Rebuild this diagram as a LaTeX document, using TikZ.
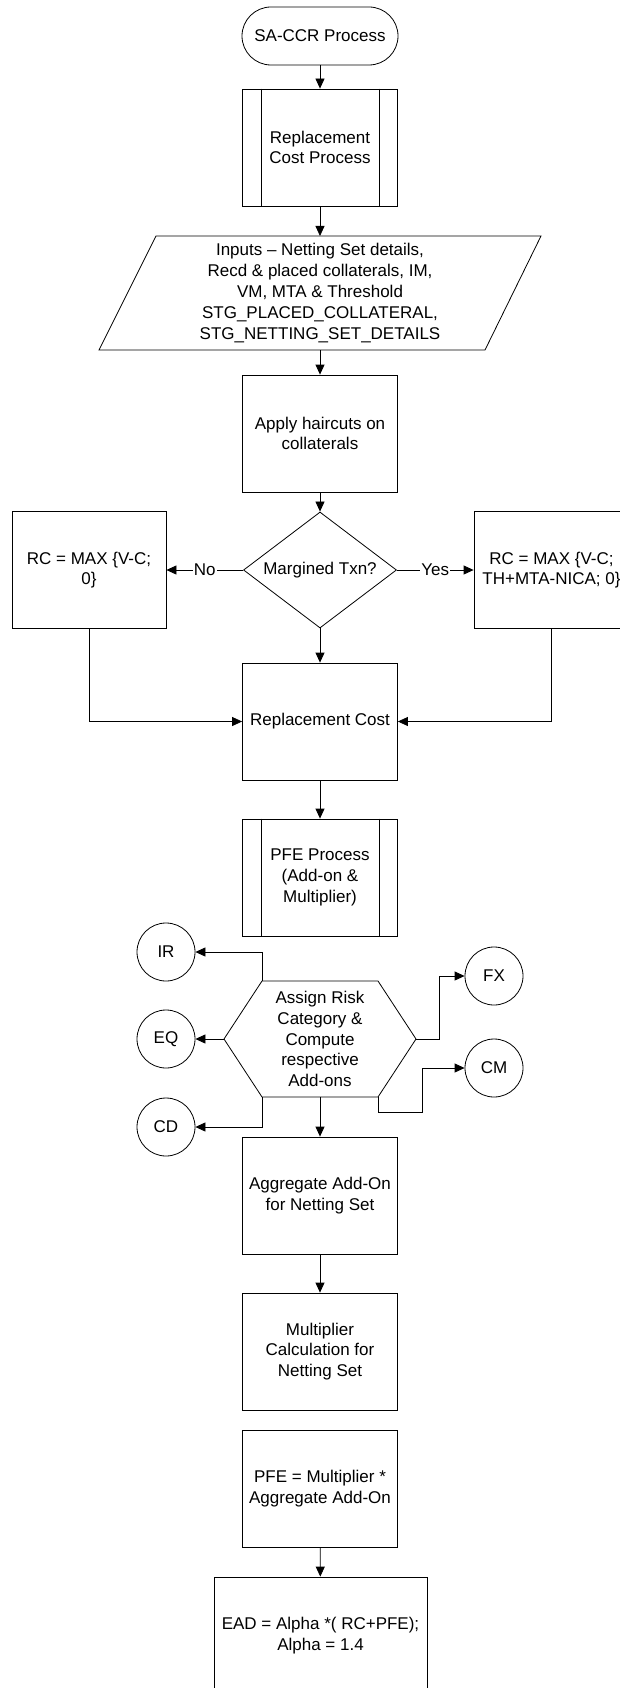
\documentclass[tikz,border=0pt]{standalone}
\usepackage{fontspec}
\setmainfont{Liberation Sans}
\usetikzlibrary{arrows.meta,shapes.geometric}
\begin{document}
\begin{tikzpicture}[x=1pt,y=-1pt,
  every node/.style={font=\fontsize{17}{20.8}\selectfont, align=center, inner sep=0pt},
  box/.style={draw, rectangle, minimum width=155pt, minimum height=117pt},
  termbox/.style={draw, rectangle, rounded corners=29pt, minimum width=156pt, minimum height=58pt},
  circ/.style={draw, circle, minimum size=58pt},
  dec/.style={draw, diamond, aspect=1.32, minimum width=153pt, minimum height=116pt},
  arr/.style={-{Triangle[length=10pt,width=9pt]}},
  lbl/.style={fill=white, inner xsep=1pt, inner ysep=2pt},
  line width=0.8pt]
\useasboundingbox (0,0) rectangle (620,1688);
\clip (0,0) rectangle (620,1688);
\fill[white] (0,0) rectangle (620,1688);

% main column
\node[termbox] (start) at (320,36) {SA-CCR Process};
\node[box] (rcp) at (320,147.5) {Replacement\\Cost Process};
\draw ([xshift=19pt]rcp.north west) -- ([xshift=19pt]rcp.south west);
\draw ([xshift=-19pt]rcp.north east) -- ([xshift=-19pt]rcp.south east);

\coordinate (ptl) at (156,236);
\coordinate (ptr) at (541,236);
\coordinate (pbr) at (485,350);
\coordinate (pbl) at (99,350);
\coordinate (inpT) at (320,236);
\coordinate (inpB) at (320,350);
\draw (ptl) -- (ptr) -- (pbr) -- (pbl) -- cycle;
\node (inp) at (320,293) {Inputs – Netting Set details,\\Recd \& placed collaterals, IM,\\VM, MTA \& Threshold\\STG\_PLACED\_COLLATERAL,\\STG\_NETTING\_SET\_DETAILS};

\node[box] (hair) at (320,433.5) {Apply haircuts on\\collaterals};
\node[dec] (dec) at (320,570) {Margined Txn?};
\node[box, minimum width=154pt] (rcl) at (89,570) {RC = MAX \{V-C;\\0\}};
\node[box] (rcr) at (551.5,570) {RC = MAX \{V-C;\\TH+MTA-NICA; 0\}};
\node[box] (rc) at (320,721.5) {Replacement Cost};
\node[box] (pfep) at (320,877.5) {PFE Process\\(Add-on \&\\Multiplier)};
\draw ([xshift=19pt]pfep.north west) -- ([xshift=19pt]pfep.south west);
\draw ([xshift=-19pt]pfep.north east) -- ([xshift=-19pt]pfep.south east);

% hexagon
\coordinate (htl) at (262,981);
\coordinate (htr) at (378,981);
\coordinate (hr) at (416,1039);
\coordinate (hbr) at (378,1097);
\coordinate (hbl) at (262,1097);
\coordinate (hl) at (224,1039);
\coordinate (hb) at (320,1097);
\draw (htl) -- (htr) -- (hr) -- (hbr) -- (hbl) -- (hl) -- cycle;
\node (hex) at (320,1039) {Assign Risk\\Category \&\\Compute\\respective\\Add-ons};

\node[circ] (ir) at (166,952) {IR};
\node[circ] (eq) at (166,1039) {EQ};
\node[circ] (cd) at (166,1127) {CD};
\node[circ] (fx) at (494,976) {FX};
\node[circ] (cm) at (494,1068) {CM};

\node[box] (agg) at (320,1195.5) {Aggregate Add-On\\for Netting Set};
\node[box] (mult) at (320,1351.5) {Multiplier\\Calculation for\\Netting Set};
\node[box] (pfe) at (320,1488.5) {PFE = Multiplier *\\Aggregate Add-On};
\node[box, minimum width=213pt] (ead) at (320.5,1635.5) {EAD = Alpha *( RC+PFE);\\Alpha = 1.4};

% connectors
\draw[arr] (start) -- (rcp);
\draw[arr] (rcp) -- (inpT);
\draw[arr] (inpB) -- (hair);
\draw[arr] (hair) -- (dec);
\draw[arr] (dec) -- node[lbl]{No} (rcl);
\draw[arr] (dec) -- node[lbl]{Yes} (rcr);
\draw[arr] (dec) -- (rc);
\draw[arr] (rcl) |- (rc);
\draw[arr] (rcr) |- (rc);
\draw[arr] (rc) -- (pfep);
\draw[arr] (htl) |- (ir);
\draw[arr] (hl) -- (eq);
\draw[arr] (hbl) |- (cd);
\draw[arr] (hr) -- ++(23,0) |- (fx);
\draw[arr] (hbr) -- ++(0,15) -- ++(44,0) |- (cm);
\draw[arr] (hb) -- (agg);
\draw[arr] (agg) -- (mult);
\draw[arr] (pfe) -- (ead);
\end{tikzpicture}
\end{document}
